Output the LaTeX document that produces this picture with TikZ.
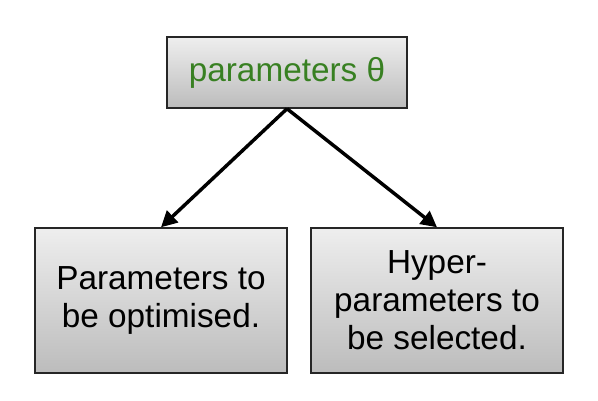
\documentclass[tikz,border=0pt]{standalone}
\usepackage{fontspec}
\setmainfont{Liberation Sans}
\usetikzlibrary{arrows.meta}
\definecolor{paramgreen}{RGB}{56,128,34}
\definecolor{boxtop}{RGB}{238,238,238}
\definecolor{boxbottom}{RGB}{188,188,188}

\begin{document}
\begin{tikzpicture}[x=0.75pt, y=-0.75pt,
    box/.style={rectangle, draw=black!85, line width=1.1pt, top color=boxtop, bottom color=boxbottom, align=center, inner sep=0pt, font=\fontsize{25}{28.5}\selectfont},
    link/.style={-{Triangle[length=12pt, width=12pt]}, line width=2.6pt}]
    \useasboundingbox (0,0) rectangle (598,400);

    % Top box
    \node[box, minimum width=180pt, minimum height=53.25pt, text=paramgreen] (theta) at (287,72.5) {parameters θ};

    % Two kinds below
    \node[box, minimum width=189pt, minimum height=108.75pt] (optim) at (161,300.5) {Parameters to\\be optimised.};

    \node[box, minimum width=189pt, minimum height=108.75pt] (hyper) at (437,300.5) {Hyper-\\parameters to\\be selected.};

    % Arrows
    \draw[link] (theta.south) -- (optim.north);
    \draw[link] (theta.south) -- (hyper.north);

\end{tikzpicture}
\end{document}
